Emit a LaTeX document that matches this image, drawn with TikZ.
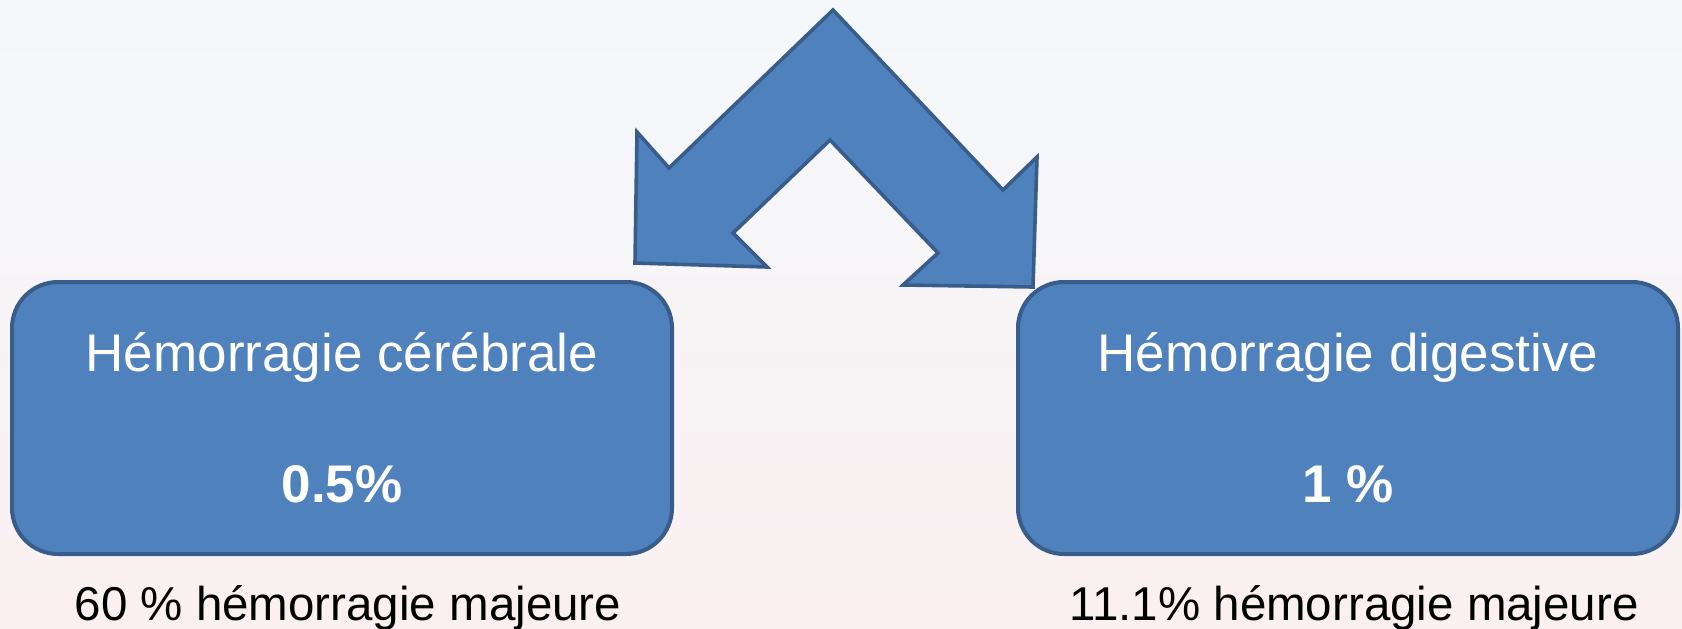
\documentclass[tikz,border=0pt]{standalone}
\usepackage{fontspec}
\setmainfont{Liberation Sans}
\usetikzlibrary{positioning,calc}
\definecolor{boxfill}{HTML}{4F81BD}
\definecolor{boxline}{HTML}{385D8A}
\definecolor{bgtop}{HTML}{F4F8FB}
\definecolor{bgbot}{HTML}{FAF0F1}
\tikzset{x=1pt, y=-1pt, node distance=64pt,
casebox/.style={rectangle, rounded corners=46pt, draw=boxline, fill=boxfill, line width=4pt, minimum width=660pt, minimum height=272pt, text=white, align=center, font=\fontsize{53}{64}\selectfont},
note/.style={anchor=base, font=\fontsize{47.5}{57}\selectfont},
bigarrow/.style={draw=boxline, fill=boxfill, line width=3.6pt, line join=miter}}

\begin{document}
\begin{tikzpicture}

    % Background
    \shade[top color=bgtop, bottom color=bgbot] (0,0) rectangle (1682,629);
    \useasboundingbox (0,0) rectangle (1682,629);

    % Nodes
    \node[casebox] (cer) at (342,418) {Hémorragie cérébrale\\[67pt]\textbf{0.5\%}};
    \node[casebox] (dig) at (1348,418) {Hémorragie digestive\\[67pt]\textbf{1 \%}};
    \node[below=of cer, xshift=6pt, note] (cernote) {60 \% hémorragie majeure};
    \node[below=of dig, xshift=6pt, note] (dignote) {11.1\% hémorragie majeure};

    % Arrow
    \draw[bigarrow] (833,10) -- (1003,190) -- (1037,157) -- (1033,287) -- (903,285)
          -- (938,253) -- (830,140) -- (733,233) -- (767,267) -- (635,263)
          -- (637,132) -- (669,168) -- cycle;
  \end{tikzpicture}
\end{document}
